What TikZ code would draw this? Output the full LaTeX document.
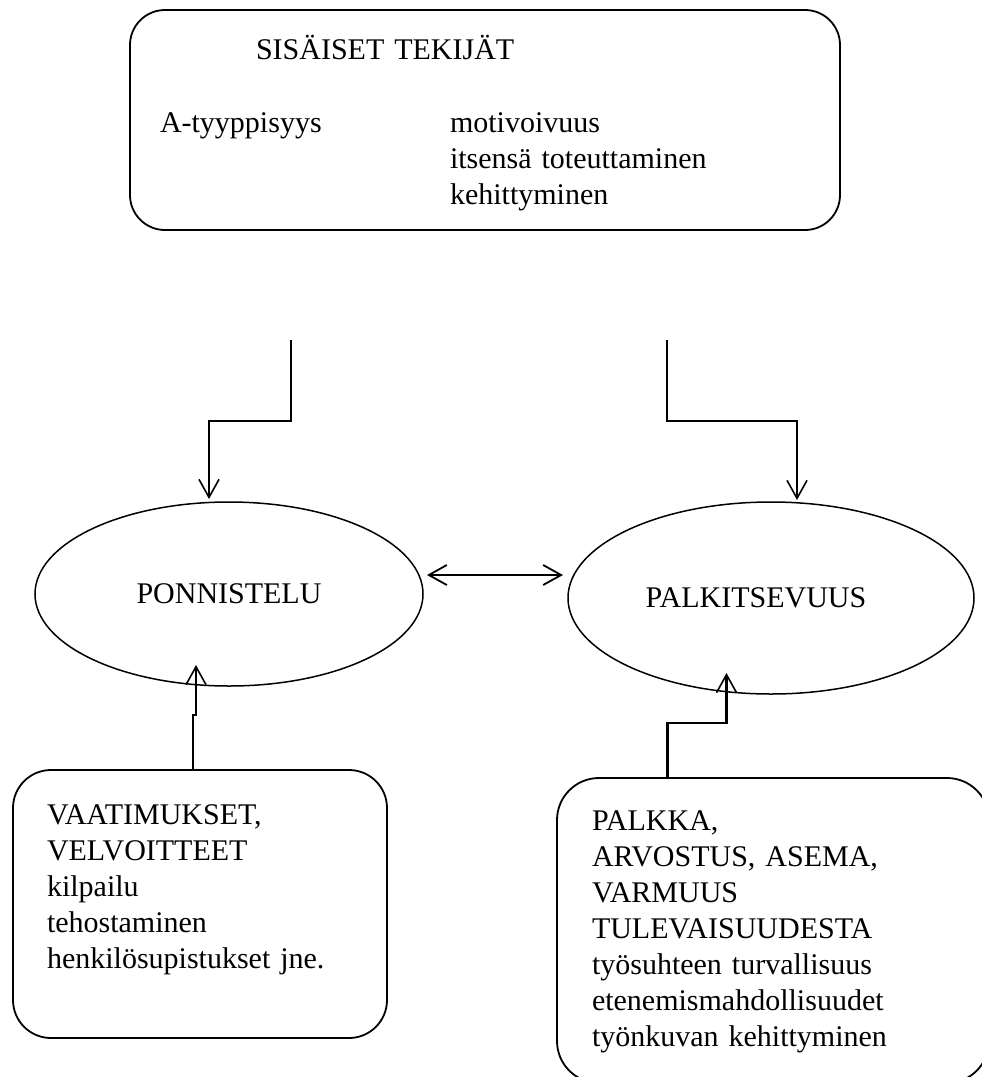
\documentclass[tikz,border=0pt]{standalone}
\usepackage{fontspec}
\setmainfont{Liberation Serif}
\usetikzlibrary{shapes.geometric,arrows.meta}
\begin{document}
\begin{tikzpicture}[x=1pt,y=-1pt,
  every node/.style={font=\fontsize{30}{36}\selectfont, inner sep=0pt, outer sep=0pt},
  box/.style={draw, line width=1.8pt},
  oval/.style={draw, ellipse, line width=1.5pt},
  txt/.style={anchor=base west, align=left, text width=420pt},
  conn/.style={line width=2.2pt, -{Straight Barb[length=18pt,width=20pt,line width=1.6pt]}},
  both/.style={line width=2.2pt, {Straight Barb[length=18pt,width=20pt,line width=1.8pt]}-{Straight Barb[length=18pt,width=20pt,line width=1.8pt]}}
]
\clip (0,0) rectangle (982,1077);

% internal factors box
\node[box, rounded corners=35pt, minimum width=710pt, minimum height=220pt] (top) at (485,120) {};
\node[txt] (ttitle) at (256,59) {SISÄISET TEKIJÄT};
\node[txt] (tleft) at (160,132) {A-tyyppisyys};
\node[txt] (tright) at (450,132) {motivoivuus\\itsensä toteuttaminen\\kehittyminen};

% the two central ellipses
\node[oval, minimum width=388pt, minimum height=184pt] (lell) at (229,594) {PONNISTELU};
\node[oval, minimum width=406pt, minimum height=192pt] (rell) at (771,598) {\hspace*{-30pt}PALKITSEVUUS};

% lower boxes
\node[box, rounded corners=38pt, minimum width=374pt, minimum height=268pt] (lbox) at (200,904) {};
\node[txt] (ltext) at (47,824) {VAATIMUKSET,\\VELVOITTEET\\kilpailu\\tehostaminen\\henkilösupistukset jne.};

\node[box, rounded corners=42pt, minimum width=432pt, minimum height=305pt] (rbox) at (773,930.5) {};
\node[txt] (rtext) at (592,830) {PALKKA,\\ARVOSTUS, ASEMA,\\VARMUUS\\TULEVAISUUDESTA\\työsuhteen turvallisuus\\etenemismahdollisuudet\\työnkuvan kehittyminen};

% connector start and end points
\coordinate (s1) at (291,340);
\coordinate (e1) at (209,499);
\coordinate (s2) at (667,340);
\coordinate (e2) at (797,500);
\coordinate (s3) at (193,0 |- lbox.north);
\coordinate (e3) at (196,665);
\coordinate (s4) at (667.5,0 |- rbox.north);
\coordinate (e4) at (726.5,673);
\coordinate (d1) at (427,575);
\coordinate (d2) at (563,575);

% connectors
\draw[conn] (s1) -- (291,421) -- (209,421) -- (e1);
\draw[conn] (s2) -- (667,421) -- (797,421) -- (e2);
\draw[conn] (s3) -- (193,715) -- (196,715) -- (e3);
\draw[conn] (s4) -- (667.5,723) -- (726.5,723) -- (e4);
\draw[both] (d1) -- (d2);
\end{tikzpicture}
\end{document}
